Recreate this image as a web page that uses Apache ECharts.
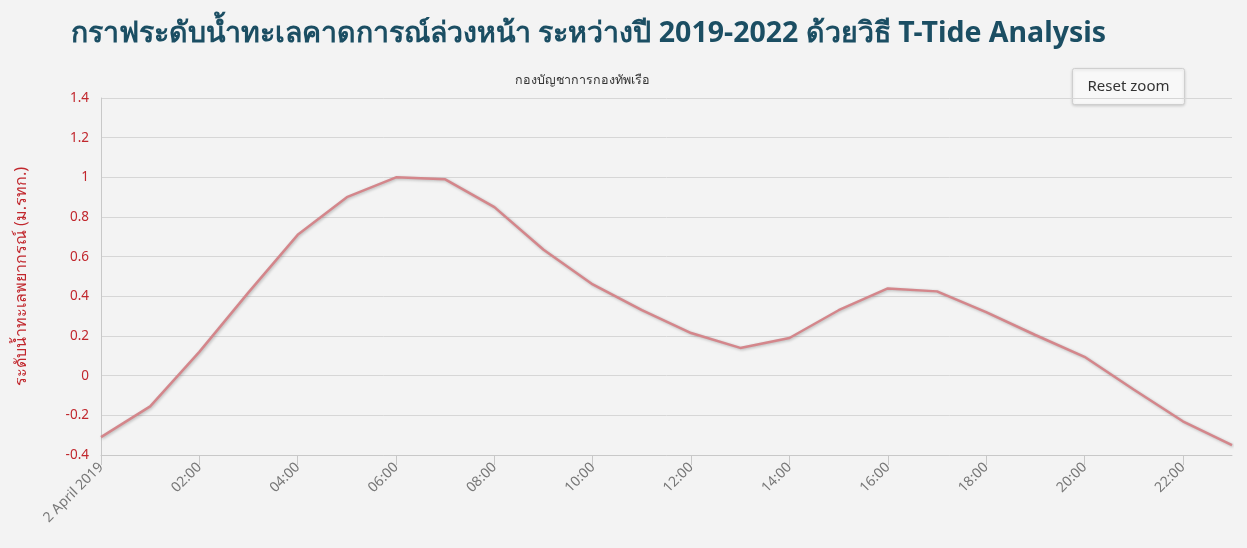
<!DOCTYPE html>
<html>
<head>
<meta charset="utf-8">
<script src="https://cdn.jsdelivr.net/npm/echarts@6/dist/echarts.min.js"></script>
<style>
html,body{margin:0;padding:0;background:#f3f3f3;}
#c{width:1247px;height:548px;}
</style>
</head>
<body>
<div id="c"></div>
<script>
var categories = ["2 April 2019","01:00","02:00","03:00","04:00","05:00","06:00","07:00","08:00","09:00","10:00","11:00",
  "12:00","13:00","14:00","15:00","16:00","17:00","18:00","19:00","20:00","21:00","22:00","23:00"];
var tideLevels = [-0.31,-0.155,0.12,0.42,0.71,0.90,1.00,0.99,0.85,0.635,0.46,0.33,
  0.215,0.14,0.19,0.33,0.44,0.425,0.32,0.205,0.095,-0.07,-0.23,-0.35];
var yTicks = {min:-0.4, max:1.4, interval:0.2};
var titleText = "กราฟระดับน้ำทะเลคาดการณ์ล่วงหน้า ระหว่างปี 2019-2022 ด้วยวิธี T-Tide Analysis";
var subtitleText = "กองบัญชาการกองทัพเรือ";
var yAxisName = "ระดับน้ำทะเลพยากรณ์ (ม.รทก.)";

var chart = echarts.init(document.getElementById('c'));
chart.setOption({
  backgroundColor: '#f3f3f3',
  animation: false,
  title: [
    {text: titleText, left: 66, top: 14,
     textStyle:{fontSize: 28.5, fontWeight:'bold', color:'#1b4e63', fontFamily:'Noto Sans, sans-serif'}},
    {text: subtitleText, left: 510, top: 69,
     textStyle:{fontSize: 12.5, fontWeight:'normal', color:'#333', fontFamily:'Noto Sans, sans-serif'}}
  ],
  grid: {left: 101, right: 15, top: 98, bottom: 93, containLabel: false},
  xAxis: {
    type: 'category', data: categories, boundaryGap: false,
    axisLine: {show: true, onZero: false, lineStyle: {color: '#c8c8c8'}},
    axisTick: {show: true, interval: 1, length: 10, lineStyle: {color: '#c8c8c8'}},
    axisLabel: {interval: 1, rotate: 45, color: '#777', fontSize: 14, margin: 10, fontFamily:'Noto Sans, sans-serif'},
    splitLine: {show: false}
  },
  yAxis: {
    type: 'value', min: yTicks.min, max: yTicks.max, interval: yTicks.interval,
    name: yAxisName, nameLocation: 'middle', nameGap: 72, nameRotate: 90,
    nameTextStyle: {color: '#c1272d', fontSize: 16, fontFamily:'Noto Sans, sans-serif'},
    axisLine: {show: true, lineStyle: {color: '#c8c8c8'}},
    axisTick: {show: false},
    axisLabel: {color: '#c1272d', fontSize: 13.5, margin: 12, fontFamily:'Noto Sans, sans-serif',
      formatter: function(v){ return String(Math.round(v*10)/10); }},
    splitLine: {show: true, lineStyle: {color: '#d6d6d6'}}
  },
  series: [{
    type: 'line', data: tideLevels, symbol: 'none', smooth: false,
    lineStyle: {color: '#d4868b', width: 2.5, shadowColor: 'rgba(0,0,0,0.25)', shadowBlur: 3, shadowOffsetX: 1, shadowOffsetY: 1}
  }],
  graphic: [{
    type: 'group', left: 1072, top: 68,
    children: [
      {type: 'rect', shape: {x:0, y:0, width: 112, height: 36, r: 2},
       style: {fill: '#f8f8f8', stroke: '#cfcfcf', lineWidth: 1, shadowColor:'rgba(0,0,0,0.15)', shadowBlur: 3, shadowOffsetY: 1}},
      {type: 'text', x: 56, y: 18,
       style: {text: 'Reset zoom', fill: '#333', fontSize: 15, fontFamily:'Noto Sans, sans-serif', align:'center', verticalAlign:'middle'}}
    ]
  }]
});
</script>
</body>
</html>
